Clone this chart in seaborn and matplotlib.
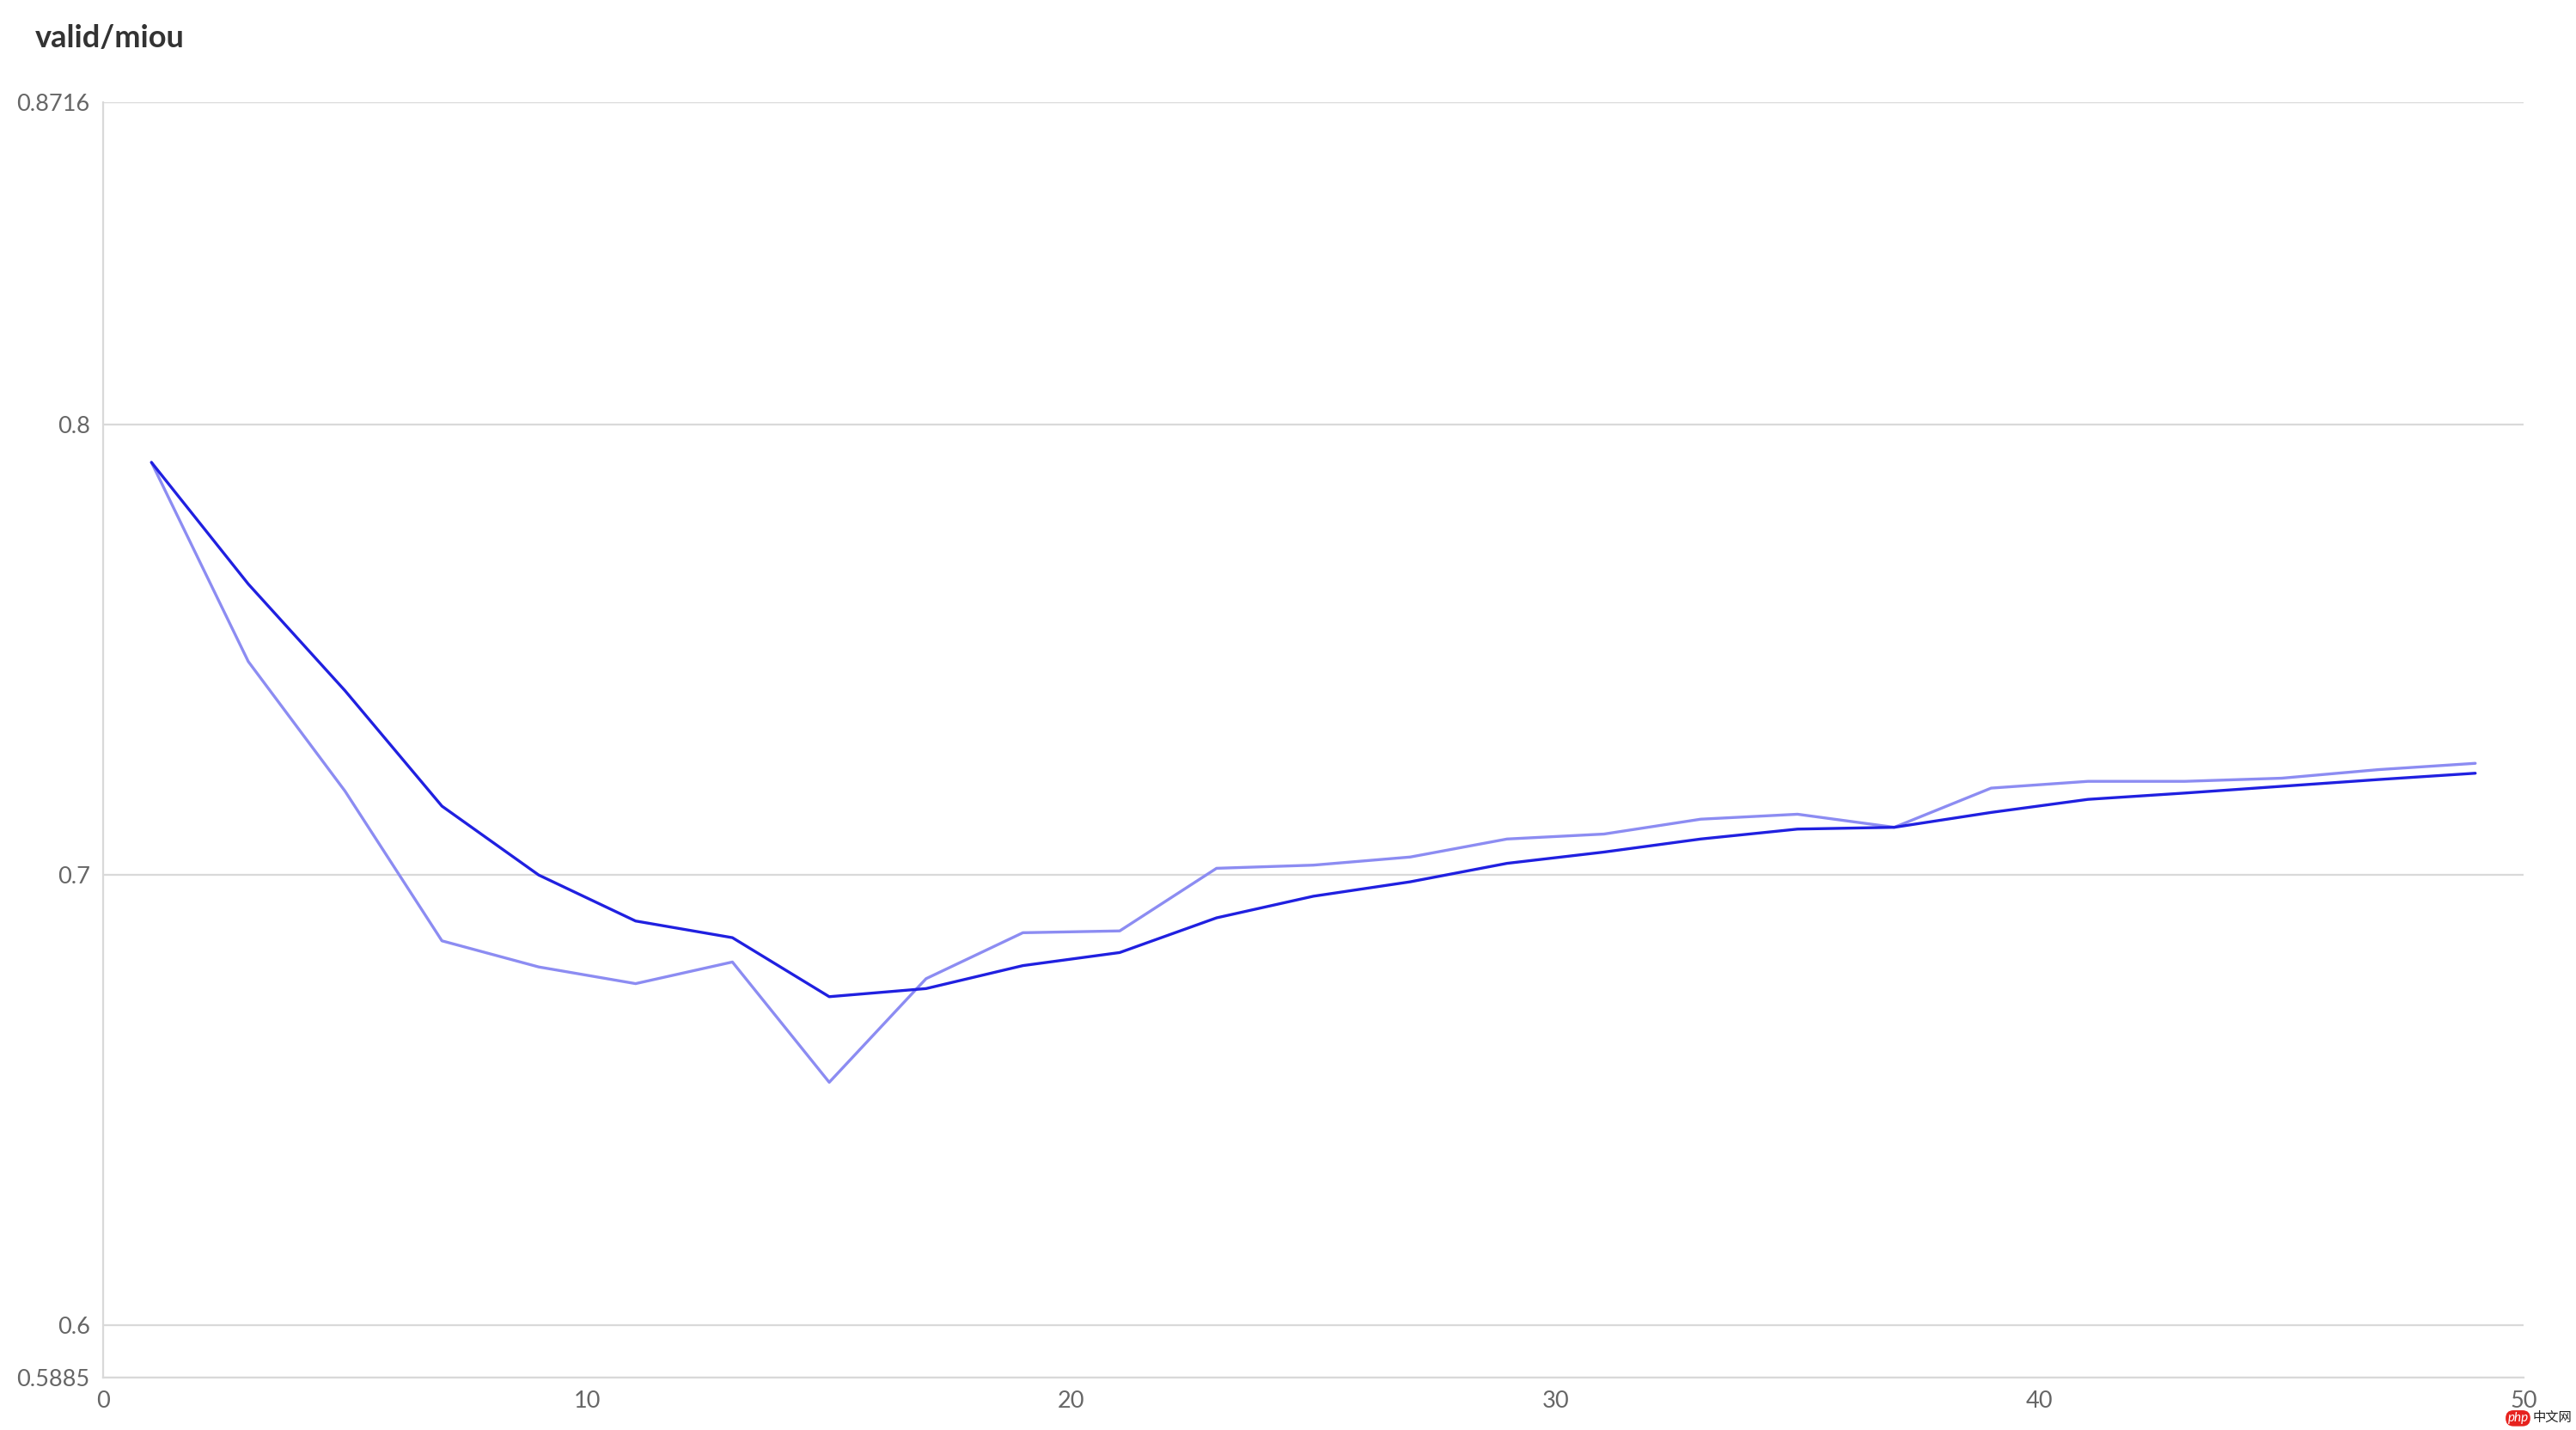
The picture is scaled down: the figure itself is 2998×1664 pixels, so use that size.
import seaborn as sns
import matplotlib.pyplot as plt
import pandas as pd
import numpy as np

# epochs logged every 2 steps
epochs = list(range(1, 50, 2))

miou_dark = [0.7916, 0.7646, 0.7409, 0.7153, 0.7000, 0.6898, 0.6861, 0.6730, 0.6748,
             0.6799, 0.6828, 0.6905, 0.6953, 0.6985, 0.7026, 0.7051, 0.7080, 0.7102,
             0.7106, 0.7139, 0.7168, 0.7182, 0.7197, 0.7212, 0.7226]
miou_light = [0.7916, 0.7474, 0.7186, 0.6854, 0.6796, 0.6759, 0.6807, 0.6540, 0.6770,
              0.6872, 0.6876, 0.7015, 0.7022, 0.7040, 0.7080, 0.7091, 0.7124, 0.7135,
              0.7106, 0.7193, 0.7208, 0.7208, 0.7215, 0.7234, 0.7248]

y_ticks = [0.5885, 0.6, 0.7, 0.8, 0.8716]
y_labels = ["0.5885", "0.6", "0.7", "0.8", "0.8716"]
x_ticks = [0, 10, 20, 30, 40, 50]

data = pd.concat([
    pd.DataFrame({"step": epochs, "miou": miou_light, "run": "light"}),
    pd.DataFrame({"step": epochs, "miou": miou_dark, "run": "dark"}),
])

sns.set_style("white")
plt.rcParams['font.family'] = ['Lato', 'Noto Sans CJK SC', 'DejaVu Sans']

fig = plt.figure(figsize=(29.98, 16.64), dpi=100)
ax = fig.add_axes([0.040, 0.0368, 0.9397, 0.8919])

sns.lineplot(data=data, x="step", y="miou", hue="run",
             palette={"light": "#8c8cf2", "dark": "#2020e0"},
             linewidth=2.4, legend=False, ax=ax)

ax.set_xlim(0, 50)
ax.set_ylim(0.5885, 0.8716)
ax.set_xticks(x_ticks)
ax.set_yticks(y_ticks)
ax.set_yticklabels(y_labels)
ax.set_xlabel("")
ax.set_ylabel("")
ax.grid(axis="y", color="#d9d9d9", linewidth=1.6)
ax.grid(axis="x", visible=False)
for s in ["top", "right"]:
    ax.spines[s].set_visible(False)
ax.spines["left"].set_color("#d9d9d9")
ax.spines["bottom"].set_color("#d9d9d9")
ax.spines["left"].set_linewidth(1.6)
ax.spines["bottom"].set_linewidth(1.6)
ax.tick_params(axis="both", length=0, labelsize=19.5, colors="#666666", pad=11)

fig.text(0.0135, 0.973, "valid/miou", fontsize=26, fontweight="bold",
         color="#333333", va="center", ha="left")

# watermark bottom right
fig.text(0.9815, 0.004, "php", fontsize=11, color="white", ha="right", va="bottom",
         style="italic",
         bbox=dict(boxstyle="round,pad=0.15,rounding_size=0.6", fc="#e6221e", ec="none"))
fig.text(0.9985, 0.004, "中文网", fontsize=11, color="#222222", ha="right", va="bottom",
         family=['Noto Sans CJK SC', 'DejaVu Sans'])

fig.savefig("out.png", dpi=100)
